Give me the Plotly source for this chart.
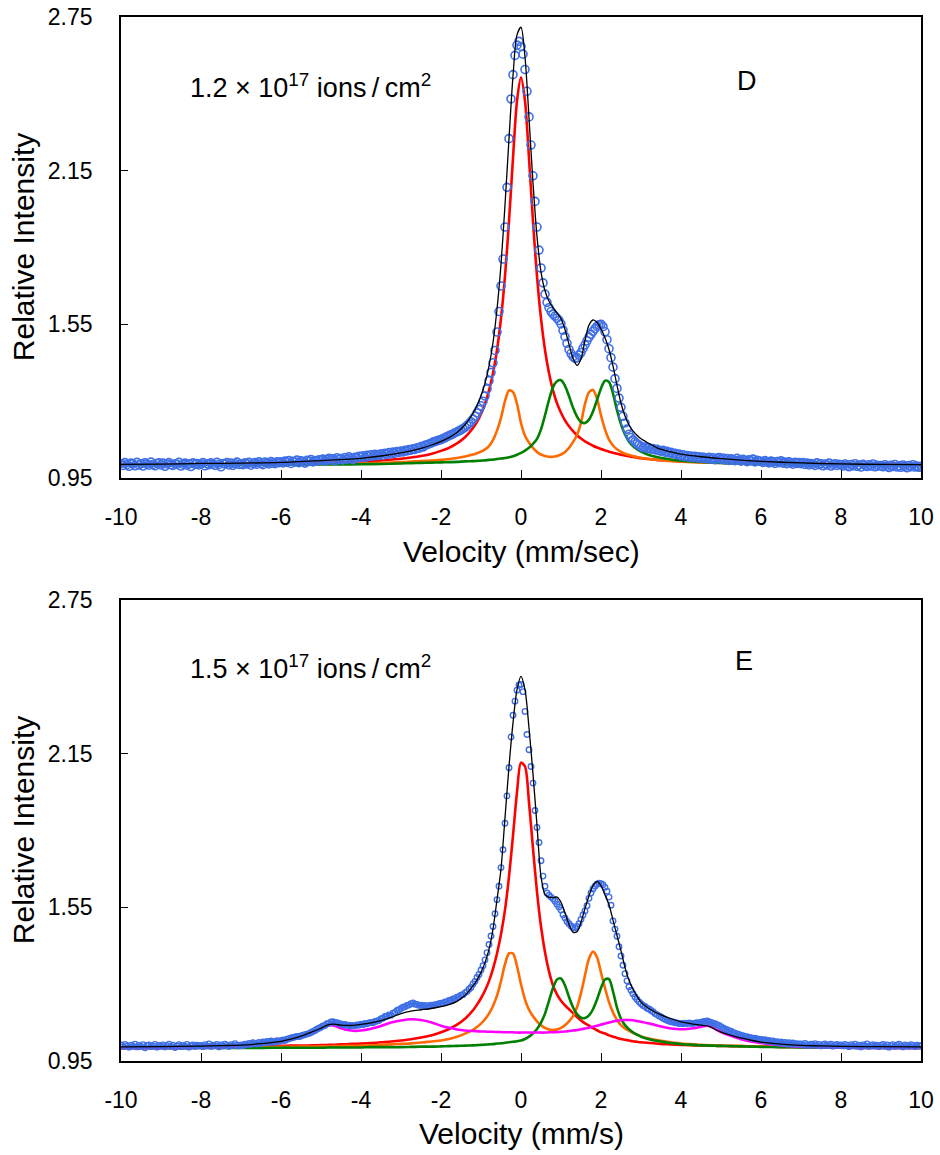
import numpy as np
import plotly.graph_objects as go

# ---------------- measured spectra (velocity step 0.05 mm/s) ----------------
vel = np.linspace(-10, 10, 401)

counts_D = [
    1.007, 0.999, 1.010, 1.002, 0.996, 1.008, 1.005, 0.998, 1.011, 1.001, 1.006, 0.997, 1.009, 1.004, 1.000, 1.012, 1.003, 0.998, 1.007, 1.009,
    1.001, 1.008, 0.996, 1.005, 1.010, 1.002, 0.999, 1.006, 1.003, 1.011, 0.997, 1.004, 1.008, 1.000, 1.006, 0.995, 1.009, 1.003, 1.007, 1.001,
    1.005, 1.010, 0.998, 1.006, 1.002, 1.009, 1.004, 0.999, 1.011, 1.003, 0.994, 1.007, 1.005, 1.010, 1.001, 1.008, 0.999, 1.006, 1.012, 1.003,
    1.006, 1.002, 1.009, 1.005, 1.011, 1.000, 1.007, 1.010, 1.004, 1.013, 1.006, 1.002, 1.012, 1.008, 1.005, 1.014, 1.009, 1.006, 1.013, 1.010,
    1.013, 1.009, 1.016, 1.011, 1.018, 1.007, 1.015, 1.012, 1.020, 1.010, 1.017, 1.014, 1.008, 1.019, 1.015, 1.022, 1.013, 1.018, 1.016, 1.021,
    1.019, 1.024, 1.016, 1.022, 1.027, 1.020, 1.025, 1.018, 1.029, 1.023, 1.026, 1.021, 1.030, 1.024, 1.033, 1.027, 1.022, 1.031, 1.028, 1.035,
    1.032, 1.037, 1.030, 1.039, 1.035, 1.041, 1.036, 1.043, 1.038, 1.040, 1.045, 1.039, 1.047, 1.043, 1.049, 1.044, 1.051, 1.047, 1.053, 1.050,
    1.055, 1.052, 1.058, 1.056, 1.061, 1.059, 1.064, 1.062, 1.068, 1.066, 1.073, 1.071, 1.078, 1.080, 1.083, 1.086, 1.090, 1.092, 1.095, 1.098,
    1.100, 1.104, 1.107, 1.112, 1.115, 1.119, 1.122, 1.127, 1.130, 1.134, 1.138, 1.143, 1.148, 1.155, 1.162, 1.170, 1.180, 1.191, 1.204, 1.218,
    1.232, 1.250, 1.270, 1.298, 1.330, 1.362, 1.400, 1.448, 1.520, 1.600, 1.700, 1.805, 1.930, 2.085, 2.275, 2.430, 2.525, 2.600, 2.640, 2.655,
    2.635, 2.605, 2.545, 2.460, 2.360, 2.250, 2.130, 2.030, 1.930, 1.840, 1.770, 1.712, 1.668, 1.636, 1.615, 1.600, 1.590, 1.582, 1.574, 1.565,
    1.552, 1.527, 1.502, 1.476, 1.452, 1.436, 1.424, 1.417, 1.420, 1.430, 1.440, 1.456, 1.470, 1.486, 1.500, 1.511, 1.523, 1.533, 1.542, 1.548,
    1.550, 1.541, 1.521, 1.490, 1.455, 1.420, 1.383, 1.338, 1.300, 1.262, 1.226, 1.191, 1.165, 1.141, 1.121, 1.108, 1.099, 1.091, 1.084, 1.079,
    1.073, 1.069, 1.071, 1.066, 1.068, 1.063, 1.065, 1.060, 1.062, 1.057, 1.055, 1.058, 1.051, 1.054, 1.048, 1.050, 1.045, 1.047, 1.041, 1.044,
    1.037, 1.041, 1.034, 1.038, 1.032, 1.036, 1.030, 1.035, 1.029, 1.033, 1.027, 1.032, 1.028, 1.025, 1.031, 1.024, 1.029, 1.022, 1.027, 1.030,
    1.024, 1.028, 1.021, 1.026, 1.019, 1.025, 1.022, 1.018, 1.027, 1.020, 1.016, 1.023, 1.019, 1.014, 1.021, 1.017, 1.024, 1.013, 1.019, 1.016,
    1.015, 1.011, 1.018, 1.013, 1.009, 1.016, 1.012, 1.007, 1.014, 1.010, 1.017, 1.008, 1.012, 1.006, 1.013, 1.009, 1.004, 1.011, 1.007, 1.010,
    1.006, 1.010, 1.003, 1.008, 1.001, 1.007, 1.004, 0.999, 1.009, 1.002, 1.006, 0.998, 1.005, 1.001, 1.008, 0.997, 1.003, 1.006, 0.999, 1.004,
    1.002, 0.997, 1.005, 0.999, 0.994, 1.003, 0.998, 1.006, 0.996, 1.001, 0.993, 1.004, 0.999, 0.995, 1.002, 0.997, 1.005, 0.994, 1.000, 0.997,
    0.999, 0.994, 1.002, 0.996, 0.991, 1.000, 0.995, 1.003, 0.993, 0.998, 0.992, 1.001, 0.996, 0.990, 0.999, 0.994, 1.002, 0.993, 0.997, 0.992,
    0.996,
]

counts_E = [
    1.013, 1.006, 1.015, 1.009, 1.004, 1.012, 1.008, 1.016, 1.005, 1.011, 1.007, 1.014, 1.002, 1.010, 1.013, 1.006, 1.009, 1.015, 1.004, 1.011,
    1.008, 1.013, 1.005, 1.010, 1.016, 1.007, 1.012, 1.003, 1.009, 1.014, 1.006, 1.011, 1.008, 1.015, 1.004, 1.010, 1.013, 1.007, 1.012, 1.009,
    1.011, 1.006, 1.014, 1.009, 1.017, 1.007, 1.012, 1.010, 1.015, 1.005, 1.013, 1.009, 1.016, 1.011, 1.007, 1.014, 1.010, 1.018, 1.012, 1.009,
    1.013, 1.010, 1.016, 1.014, 1.019, 1.015, 1.021, 1.018, 1.016, 1.022, 1.019, 1.024, 1.021, 1.026, 1.022, 1.028, 1.025, 1.023, 1.029, 1.027,
    1.029, 1.032, 1.030, 1.035, 1.037, 1.040, 1.042, 1.044, 1.046, 1.045, 1.048, 1.051, 1.053, 1.055, 1.057, 1.061, 1.065, 1.069, 1.074, 1.078,
    1.082, 1.087, 1.089, 1.096, 1.097, 1.102, 1.103, 1.101, 1.100, 1.096, 1.095, 1.092, 1.093, 1.089, 1.090, 1.087, 1.089, 1.088, 1.091, 1.090,
    1.094, 1.092, 1.097, 1.095, 1.099, 1.101, 1.099, 1.104, 1.106, 1.108, 1.115, 1.117, 1.124, 1.125, 1.130, 1.129, 1.137, 1.140, 1.147, 1.150,
    1.155, 1.160, 1.162, 1.167, 1.169, 1.174, 1.177, 1.172, 1.171, 1.167, 1.168, 1.164, 1.167, 1.163, 1.166, 1.168, 1.167, 1.170, 1.171, 1.174,
    1.176, 1.176, 1.181, 1.181, 1.186, 1.187, 1.192, 1.193, 1.199, 1.201, 1.207, 1.209, 1.216, 1.221, 1.230, 1.237, 1.251, 1.261, 1.276, 1.288,
    1.305, 1.322, 1.345, 1.373, 1.405, 1.438, 1.475, 1.525, 1.580, 1.632, 1.705, 1.775, 1.878, 1.985, 2.095, 2.215, 2.300, 2.355, 2.398, 2.418,
    2.420, 2.392, 2.315, 2.225, 2.165, 2.100, 2.035, 1.928, 1.862, 1.803, 1.732, 1.672, 1.632, 1.606, 1.597, 1.590, 1.583, 1.574, 1.562, 1.551,
    1.540, 1.521, 1.508, 1.495, 1.486, 1.477, 1.471, 1.469, 1.475, 1.486, 1.503, 1.520, 1.536, 1.556, 1.585, 1.606, 1.622, 1.632, 1.640, 1.644,
    1.642, 1.638, 1.628, 1.613, 1.590, 1.558, 1.497, 1.465, 1.437, 1.396, 1.360, 1.324, 1.291, 1.263, 1.240, 1.226, 1.213, 1.200, 1.190, 1.181,
    1.174, 1.167, 1.163, 1.156, 1.153, 1.147, 1.142, 1.135, 1.131, 1.126, 1.122, 1.117, 1.113, 1.109, 1.106, 1.103, 1.102, 1.099, 1.099, 1.096,
    1.097, 1.095, 1.098, 1.096, 1.099, 1.097, 1.096, 1.098, 1.100, 1.099, 1.101, 1.103, 1.104, 1.106, 1.103, 1.101, 1.098, 1.096, 1.092, 1.089,
    1.084, 1.079, 1.075, 1.072, 1.068, 1.066, 1.061, 1.059, 1.056, 1.054, 1.050, 1.049, 1.046, 1.045, 1.042, 1.041, 1.038, 1.039, 1.036, 1.035,
    1.034, 1.031, 1.033, 1.028, 1.030, 1.026, 1.028, 1.023, 1.025, 1.020, 1.024, 1.019, 1.022, 1.017, 1.021, 1.016, 1.020, 1.015, 1.018, 1.016,
    1.017, 1.012, 1.019, 1.014, 1.010, 1.016, 1.013, 1.018, 1.011, 1.015, 1.009, 1.014, 1.017, 1.010, 1.013, 1.016, 1.008, 1.012, 1.015, 1.011,
    1.013, 1.009, 1.015, 1.011, 1.006, 1.014, 1.010, 1.016, 1.008, 1.012, 1.005, 1.013, 1.010, 1.017, 1.007, 1.011, 1.014, 1.009, 1.012, 1.006,
    1.011, 1.015, 1.008, 1.013, 1.004, 1.010, 1.014, 1.007, 1.012, 1.016, 1.009, 1.005, 1.013, 1.010, 1.007, 1.014, 1.011, 1.006, 1.012, 1.009,
    1.010,
]

# ---------------- fitted sub-spectra, panel D ----------------
fit_v_D = [-10, -9, -8, -7, -6, -5, -4.5, -4, -3.5, -3, -2.75, -2.5, -2.25, -2, -1.8, -1.6, -1.4, -1.2,
           -1.1, -1.0, -0.9, -0.8, -0.7, -0.6, -0.5, -0.4, -0.3, -0.2, -0.1, 0.0, 0.1, 0.2, 0.3, 0.4, 0.5,
           0.6, 0.7, 0.8, 0.9, 1.0, 1.1, 1.2, 1.3, 1.4, 1.5, 1.6, 1.7, 1.8, 1.9, 2.0, 2.1, 2.2, 2.3, 2.4,
           2.5, 2.6, 2.7, 2.8, 2.9, 3.0,
           3.2, 3.4, 3.6, 3.8, 4.0, 4.5, 5.0, 5.5, 6.0, 7.0, 8.0, 9.0, 10.0]
red_D = [1.002, 1.003, 1.004, 1.005, 1.006, 1.009, 1.011, 1.014, 1.019, 1.025, 1.030, 1.036, 1.044, 1.056, 1.068, 1.085, 1.109, 1.145,
         1.169, 1.200, 1.239, 1.291, 1.359, 1.450, 1.573, 1.738, 1.952, 2.200, 2.422, 2.515, 2.422, 2.200, 1.952, 1.738, 1.573,
         1.450, 1.360, 1.292, 1.242, 1.205, 1.175, 1.152, 1.133, 1.117, 1.104, 1.093, 1.084, 1.076, 1.069, 1.063, 1.058, 1.053, 1.049, 1.045,
         1.041, 1.038, 1.035, 1.032, 1.030, 1.027,
         1.024, 1.021, 1.019, 1.017, 1.015, 1.012, 1.010, 1.008, 1.007, 1.005, 1.004, 1.003, 1.002]
orange_D = [1.000, 1.001, 1.002, 1.002, 1.003, 1.005, 1.006, 1.007, 1.009, 1.012, 1.014, 1.016, 1.018, 1.021, 1.024, 1.028, 1.034, 1.042,
            1.047, 1.053, 1.062, 1.075, 1.098, 1.135, 1.185, 1.250, 1.292, 1.285, 1.240, 1.165, 1.115, 1.088, 1.068, 1.052, 1.042,
            1.036, 1.033, 1.033, 1.036, 1.042, 1.052, 1.068, 1.090, 1.118, 1.165, 1.240, 1.285, 1.294, 1.260, 1.195, 1.140, 1.100, 1.077, 1.062,
            1.052, 1.045, 1.040, 1.036, 1.032, 1.029,
            1.024, 1.021, 1.018, 1.016, 1.014, 1.011, 1.009, 1.007, 1.005, 1.003, 1.002, 1.001, 1.001]
green_D = [1.000, 1.000, 1.001, 1.001, 1.002, 1.003, 1.003, 1.004, 1.005, 1.007, 1.008, 1.009, 1.010, 1.011, 1.012, 1.013, 1.015, 1.016,
           1.017, 1.018, 1.019, 1.021, 1.022, 1.024, 1.026, 1.028, 1.031, 1.035, 1.041, 1.048, 1.057, 1.068, 1.083, 1.103, 1.140,
           1.195, 1.255, 1.305, 1.328, 1.332, 1.310, 1.270, 1.225, 1.190, 1.168, 1.165, 1.178, 1.210, 1.255, 1.300, 1.330, 1.325, 1.280, 1.215,
           1.160, 1.120, 1.092, 1.075, 1.063, 1.053,
           1.040, 1.032, 1.026, 1.021, 1.018, 1.013, 1.009, 1.007, 1.005, 1.003, 1.002, 1.001, 1.001]
total_D = [1.003, 1.004, 1.007, 1.008, 1.011, 1.018, 1.022, 1.027, 1.036, 1.048, 1.056, 1.066, 1.078, 1.093, 1.108, 1.128, 1.158, 1.203,
           1.233, 1.271, 1.320, 1.387, 1.479, 1.609, 1.784, 2.016, 2.275, 2.520, 2.680, 2.710, 2.594, 2.356, 2.103, 1.893, 1.755,
           1.681, 1.640, 1.615, 1.595, 1.572, 1.530, 1.472, 1.418, 1.390, 1.415, 1.488, 1.547, 1.567, 1.558, 1.532, 1.498, 1.452, 1.388, 1.312,
           1.242, 1.192, 1.157, 1.134, 1.117, 1.103,
           1.085, 1.068, 1.058, 1.050, 1.043, 1.033, 1.026, 1.020, 1.015, 1.009, 1.005, 1.003, 1.002]

# ---------------- fitted sub-spectra, panel E ----------------
fit_v_E = [-10, -9, -8, -7.5, -7, -6.5, -6, -5.75, -5.5, -5.25, -5, -4.9, -4.8, -4.7, -4.6, -4.5, -4.4, -4.2, -4,
           -3.75, -3.5, -3.25, -3, -2.75, -2.5, -2.25, -2, -1.8, -1.6, -1.4, -1.2,
           -1.1, -1.0, -0.9, -0.8, -0.7, -0.6, -0.5, -0.4, -0.3, -0.2, -0.1, 0.0, 0.1, 0.2, 0.3, 0.4, 0.5,
           0.6, 0.7, 0.8, 0.9, 1.0, 1.1, 1.2, 1.3, 1.4, 1.5, 1.6, 1.7, 1.8, 1.9, 2.0, 2.1, 2.2, 2.3, 2.4,
           2.5, 2.6, 2.7, 2.8, 2.9, 3.0,
           3.25, 3.5, 3.75, 4.0, 4.2, 4.4, 4.5, 4.6, 4.7, 4.8, 4.9, 5.0, 5.25, 5.5, 5.75, 6.0, 6.5, 7.0,
           7.5, 8.0, 9.0, 10.0]
red_E = [1.003, 1.004, 1.005, 1.006, 1.007, 1.008, 1.009, 1.010, 1.010, 1.011, 1.012, 1.012, 1.013, 1.013, 1.014, 1.015, 1.015, 1.017, 1.018,
         1.020, 1.023, 1.026, 1.030, 1.035, 1.042, 1.050, 1.062, 1.075, 1.092, 1.115, 1.148,
         1.170, 1.195, 1.225, 1.262, 1.310, 1.370, 1.445, 1.540, 1.670, 1.830, 2.000, 2.115, 2.100, 1.960, 1.780, 1.610, 1.475,
         1.375, 1.300, 1.245, 1.210, 1.185, 1.167, 1.152, 1.137, 1.122, 1.108, 1.097, 1.088, 1.078, 1.070, 1.062, 1.057, 1.050, 1.045, 1.040,
         1.036, 1.033, 1.030, 1.027, 1.025, 1.023,
         1.020, 1.017, 1.015, 1.013, 1.012, 1.011, 1.011, 1.010, 1.010, 1.010, 1.009, 1.009, 1.008, 1.008, 1.007, 1.006, 1.005, 1.005,
         1.004, 1.004, 1.003, 1.003]
orange_E = [1.002, 1.002, 1.003, 1.003, 1.004, 1.004, 1.005, 1.005, 1.006, 1.006, 1.007, 1.007, 1.007, 1.008, 1.008, 1.008, 1.009, 1.009, 1.010,
            1.011, 1.013, 1.015, 1.017, 1.019, 1.022, 1.026, 1.030, 1.036, 1.045, 1.057, 1.072,
            1.083, 1.096, 1.113, 1.135, 1.165, 1.205, 1.262, 1.328, 1.370, 1.370, 1.320, 1.250, 1.190, 1.150, 1.125, 1.105, 1.090,
            1.079, 1.073, 1.071, 1.073, 1.079, 1.090, 1.105, 1.125, 1.160, 1.215, 1.285, 1.350, 1.377, 1.355, 1.295, 1.235, 1.180, 1.140, 1.110,
            1.090, 1.077, 1.068, 1.060, 1.053, 1.046,
            1.036, 1.029, 1.023, 1.018, 1.016, 1.014, 1.013, 1.012, 1.012, 1.011, 1.011, 1.010, 1.009, 1.008, 1.007, 1.006, 1.005, 1.004,
            1.004, 1.003, 1.002, 1.002]
green_E = [1.000, 1.000, 1.001, 1.001, 1.001, 1.001, 1.002, 1.002, 1.002, 1.002, 1.002, 1.002, 1.003, 1.003, 1.003, 1.003, 1.003, 1.003, 1.003,
           1.004, 1.004, 1.004, 1.004, 1.005, 1.006, 1.006, 1.007, 1.008, 1.009, 1.010, 1.011,
           1.012, 1.013, 1.014, 1.015, 1.016, 1.018, 1.019, 1.021, 1.023, 1.025, 1.027, 1.030, 1.036, 1.045, 1.058, 1.075, 1.100,
           1.135, 1.185, 1.235, 1.268, 1.272, 1.245, 1.200, 1.160, 1.133, 1.119, 1.118, 1.128, 1.152, 1.190, 1.235, 1.268, 1.270, 1.222, 1.158,
           1.115, 1.090, 1.074, 1.062, 1.053, 1.045,
           1.033, 1.026, 1.020, 1.016, 1.014, 1.012, 1.011, 1.011, 1.010, 1.010, 1.009, 1.009, 1.008, 1.007, 1.006, 1.005, 1.004, 1.003,
           1.003, 1.002, 1.001, 1.001]
magenta_E = [1.000, 1.001, 1.002, 1.004, 1.007, 1.013, 1.025, 1.033, 1.044, 1.060, 1.077, 1.085, 1.089, 1.089, 1.084, 1.078, 1.073, 1.068, 1.069,
             1.076, 1.087, 1.100, 1.108, 1.113, 1.110, 1.101, 1.088, 1.080, 1.073, 1.069, 1.067,
             1.066, 1.065, 1.065, 1.064, 1.064, 1.063, 1.063, 1.062, 1.062, 1.062, 1.061, 1.061, 1.061, 1.061, 1.061, 1.061, 1.061,
             1.061, 1.062, 1.062, 1.063, 1.064, 1.065, 1.067, 1.069, 1.071, 1.074, 1.077, 1.080, 1.084, 1.088, 1.092, 1.096, 1.100, 1.104, 1.107,
             1.109, 1.110, 1.110, 1.109, 1.106, 1.103,
             1.095, 1.085, 1.077, 1.074, 1.076, 1.080, 1.084, 1.087, 1.087, 1.080, 1.071, 1.063, 1.048, 1.035, 1.026, 1.020, 1.011, 1.006,
             1.004, 1.002, 1.001, 1.000]
total_E = [1.005, 1.006, 1.008, 1.010, 1.012, 1.018, 1.027, 1.035, 1.047, 1.062, 1.078, 1.086, 1.092, 1.094, 1.092, 1.090, 1.089, 1.089, 1.093,
           1.099, 1.108, 1.120, 1.135, 1.145, 1.150, 1.155, 1.162, 1.170, 1.183, 1.207, 1.243,
           1.266, 1.296, 1.334, 1.386, 1.465, 1.580, 1.700, 1.900, 2.100, 2.270, 2.400, 2.452, 2.400, 2.250, 2.070, 1.870, 1.670,
           1.600, 1.590, 1.588, 1.590, 1.570, 1.528, 1.483, 1.453, 1.455, 1.492, 1.545, 1.595, 1.635, 1.650, 1.635, 1.598, 1.560, 1.500, 1.440,
           1.380, 1.315, 1.265, 1.230, 1.203, 1.180,
           1.150, 1.130, 1.115, 1.103, 1.097, 1.092, 1.090, 1.088, 1.085, 1.078, 1.070, 1.063, 1.050, 1.040, 1.031, 1.024, 1.016, 1.011,
           1.009, 1.007, 1.006, 1.005]

for arr in (counts_D, counts_E):
    assert len(arr) == len(vel), len(arr)
for arr in (red_D, orange_D, green_D, total_D):
    assert len(arr) == len(fit_v_D), len(arr)
for arr in (red_E, orange_E, green_E, magenta_E, total_E):
    assert len(arr) == len(fit_v_E), len(arr)

x_ticks = [-10, -8, -6, -4, -2, 0, 2, 4, 6, 8, 10]
x_tick_text = ["-10", "-8", "-6", "-4", "-2", "0", "2", "4", "6", "8", "10"]
y_ticks = [0.95, 1.55, 2.15, 2.75]
y_tick_text = ["0.95", "1.55", "2.15", "2.75"]

FONT = "Liberation Sans, Arial, sans-serif"
BLUE = "#3f6fe6"
RED = "#ff0000"
ORANGE = "#ff6a00"
GREEN = "#008000"
MAGENTA = "#ff00ff"

fig = go.Figure()


def add_line(x, y, color, width, xa, ya):
    fig.add_trace(go.Scatter(x=x, y=y, mode="lines", xaxis=xa, yaxis=ya,
                             line=dict(color=color, width=width, shape="spline", smoothing=0.8),
                             hoverinfo="skip"))


# panel D
for comp, col in ((red_D, RED), (orange_D, ORANGE), (green_D, GREEN)):
    add_line(fit_v_D, comp, col, 2.6, "x", "y")
fig.add_trace(go.Scatter(x=vel, y=counts_D, mode="markers", xaxis="x", yaxis="y",
                         marker=dict(symbol="circle-open", size=8, color=BLUE, line=dict(width=1.6, color=BLUE))))
add_line(fit_v_D, total_D, "black", 1.3, "x", "y")

# panel E
for comp, col in ((red_E, RED), (orange_E, ORANGE), (green_E, GREEN), (magenta_E, MAGENTA)):
    add_line(fit_v_E, comp, col, 2.6, "x2", "y2")
fig.add_trace(go.Scatter(x=vel, y=counts_E, mode="markers", xaxis="x2", yaxis="y2",
                         marker=dict(symbol="circle-open", size=5.5, color=BLUE, line=dict(width=1.4, color=BLUE))))
add_line(fit_v_E, total_E, "black", 1.3, "x2", "y2")

axis_common = dict(showline=True, linecolor="black", linewidth=1.6, mirror=True,
                   ticks="inside", tickcolor="black", tickwidth=1.4,
                   showgrid=False, zeroline=False, automargin=False,
                   tickfont=dict(family=FONT, size=23, color="black"))

xa = dict(axis_common, range=[-10, 10], tickvals=x_ticks, ticktext=x_tick_text, ticklen=8,
          ticklabelstandoff=18)
ya = dict(axis_common, range=[0.95, 2.75], tickvals=y_ticks, ticktext=y_tick_text, ticklen=7,
          ticklabelstandoff=22)

top_dom = [0.5584, 1.0]
bot_dom = [0.0, 0.4416]

fig.update_layout(
    width=940, height=1155,
    margin=dict(l=121, r=19, t=17, b=94, pad=0),
    paper_bgcolor="white", plot_bgcolor="white",
    showlegend=False,
    font=dict(family=FONT, color="black"),
    xaxis=dict(xa, domain=[0, 1], anchor="y"),
    yaxis=dict(ya, domain=top_dom, anchor="x"),
    xaxis2=dict(xa, domain=[0, 1], anchor="y2"),
    yaxis2=dict(ya, domain=bot_dom, anchor="x2"),
)

ANN_FONT = dict(family=FONT, size=27, color="black")
TITLE_FONT = dict(family=FONT, size=30, color="black")
ann = []
ann.append(dict(text="1.2 \u00d7 10<sup>17</sup> ions\u2009/\u2009cm<sup>2</sup>", x=-8.33, y=2.48, xref="x", yref="y",
                xanchor="left", yanchor="middle", showarrow=False, font=ANN_FONT))
ann.append(dict(text="D", x=5.65, y=2.50, xref="x", yref="y", xanchor="center", yanchor="middle",
                showarrow=False, font=ANN_FONT))
ann.append(dict(text="1.5 \u00d7 10<sup>17</sup> ions\u2009/\u2009cm<sup>2</sup>", x=-8.33, y=2.49, xref="x2", yref="y2",
                xanchor="left", yanchor="middle", showarrow=False, font=ANN_FONT))
ann.append(dict(text="E", x=5.58, y=2.51, xref="x2", yref="y2", xanchor="center", yanchor="middle",
                showarrow=False, font=ANN_FONT))
ann.append(dict(text="Velocity (mm/sec)", x=0.5, y=0.4885, xref="paper", yref="paper",
                xanchor="center", yanchor="middle", showarrow=False, font=TITLE_FONT))
ann.append(dict(text="Velocity (mm/s)", x=0.5, y=-0.069, xref="paper", yref="paper",
                xanchor="center", yanchor="middle", showarrow=False, font=TITLE_FONT))
ann.append(dict(text="Relative Intensity", x=-0.121, y=0.7797, xref="paper", yref="paper", textangle=-90,
                xanchor="center", yanchor="middle", showarrow=False, font=TITLE_FONT))
ann.append(dict(text="Relative Intensity", x=-0.121, y=0.2213, xref="paper", yref="paper", textangle=-90,
                xanchor="center", yanchor="middle", showarrow=False, font=TITLE_FONT))
fig.update_layout(annotations=ann)

fig.write_html("out.html")
